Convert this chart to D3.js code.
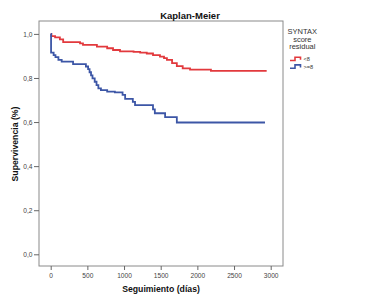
<!DOCTYPE html>
<html><head><meta charset="utf-8">
<script src="https://cdn.jsdelivr.net/npm/d3@7"></script>
<style>body{margin:0;background:#fff}svg{display:block}text{font-family:"Liberation Sans",Arial,sans-serif}</style>
</head><body><svg id="c" width="380" height="304"></svg>
<script>
const xTicks = [0, 500, 1000, 1500, 2000, 2500, 3000];
const yTicks = [0, 0.2, 0.4, 0.6, 0.8, 1.0];
const groups = ["<8", ">=8"];
const colors = ["#e2393d", "#3c56a6"];
const redTimes = [0, 10, 60, 125, 170, 400, 440, 630, 770, 850, 945, 1130, 1220, 1310, 1395, 1490, 1545, 1585, 1655, 1720, 1800, 1900, 2185, 2945];
const redSurv  = [1.0, 0.990, 0.984, 0.975, 0.963, 0.957, 0.950, 0.942, 0.935, 0.927, 0.921, 0.918, 0.915, 0.911, 0.904, 0.897, 0.890, 0.882, 0.867, 0.854, 0.844, 0.838, 0.832, 0.832];
const blueTimes = [0, 5, 40, 65, 105, 150, 305, 480, 510, 530, 550, 570, 600, 625, 650, 685, 770, 875, 980, 1015, 1120, 1150, 1395, 1420, 1560, 1720, 2922];
const blueSurv  = [1.0, 0.915, 0.904, 0.895, 0.882, 0.874, 0.863, 0.852, 0.840, 0.826, 0.812, 0.798, 0.783, 0.768, 0.753, 0.745, 0.738, 0.735, 0.723, 0.705, 0.692, 0.677, 0.658, 0.640, 0.622, 0.598, 0.598];

const svg = d3.select("#c");
const L = 39, R = 283, T = 21, B = 266;
const x = d3.scaleLinear().domain([0, 3000]).range([50.7, 270.7]);
const y = d3.scaleLinear().domain([0, 1]).range([254.3, 33.9]);

svg.append("rect").attr("x", L).attr("y", T).attr("width", R - L).attr("height", B - T)
  .attr("fill", "none").attr("stroke", "#8a8a8a").attr("stroke-width", 1);

const fmt = d => d.toFixed(1).replace(".", ",");
const gy = svg.append("g").attr("transform", `translate(${L},0)`)
  .call(d3.axisLeft(y).tickValues(yTicks).tickFormat(fmt).tickSize(5).tickPadding(1.5));
const gx = svg.append("g").attr("transform", `translate(0,${B})`)
  .call(d3.axisBottom(x).tickValues(xTicks).tickFormat(d3.format("d")).tickSize(4).tickPadding(3));
[gy, gx].forEach(g => {
  g.select(".domain").remove();
  g.selectAll("line").attr("stroke", "#666");
  g.selectAll("text").attr("font-size", "6.6px").attr("fill", "#444")
    .style("font-family", "'Liberation Sans', Arial, sans-serif");
});

const line = d3.line().x(d => x(d[0])).y(d => y(d[1])).curve(d3.curveStepAfter);
const series = [d3.zip(redTimes, redSurv), d3.zip(blueTimes, blueSurv)];
series.forEach((s, i) => {
  svg.append("path").attr("d", line(s)).attr("fill", "none")
    .attr("stroke", colors[i]).attr("stroke-width", 1.8);
});

svg.append("text").attr("x", 190).attr("y", 18.5).attr("text-anchor", "middle")
  .attr("font-size", "9.5px").attr("font-weight", "bold").attr("fill", "#111").text("Kaplan-Meier");
svg.append("text").attr("x", 161).attr("y", 291.5).attr("text-anchor", "middle")
  .attr("font-size", "8.7px").attr("font-weight", "bold").attr("fill", "#111").text("Seguimiento (días)");
svg.append("text").attr("transform", "translate(18,144) rotate(-90)").attr("text-anchor", "middle")
  .attr("font-size", "8.7px").attr("font-weight", "bold").attr("fill", "#111").text("Supervivencia (%)");

const lg = svg.append("g");
["SYNTAX", "score", "residual"].forEach((t, i) => {
  lg.append("text").attr("x", 302.3).attr("y", 34.3 + i * 7.5).attr("text-anchor", "middle")
    .attr("font-size", "7.5px").attr("fill", "#333").text(t);
});
groups.forEach((g, i) => {
  const cy = 59 + i * 7.7;
  lg.append("path").attr("d", `M290,${cy + 1.5}H295V${cy - 1.8}H300.5V${cy + 0.8}`)
    .attr("fill", "none").attr("stroke", colors[i]).attr("stroke-width", 1.6);
  lg.append("text").attr("x", 303.5).attr("y", cy + 2).attr("font-size", "5.6px").attr("fill", "#333").text(g);
});
</script></body></html>
